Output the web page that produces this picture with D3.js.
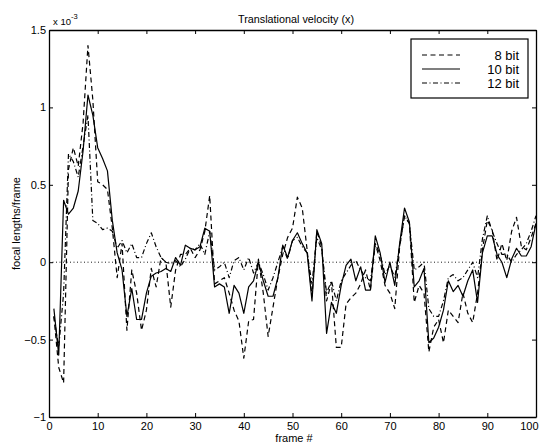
<!DOCTYPE html>
<html>
<head>
<meta charset="utf-8">
<script src="https://cdn.jsdelivr.net/npm/d3@7"></script>
<style>
  html, body { margin: 0; padding: 0; background: #fff; }
  svg { display: block; }
  text { font-family: "Liberation Sans", Arial, Helvetica, sans-serif; fill: #000; }
</style>
</head>
<body>
<svg id="chart" width="539" height="444"></svg>
<script>
// Frame numbers 1..100
const frames = d3.range(1, 101);

// Translational velocity (x), units of 1e-3 focal lengths per frame
const bit8 = [
  -0.35, -0.68, -0.78, 0.60, 0.74, 0.62, 0.90, 1.40, 1.05, 0.52,
   0.50, 0.47, 0.22, -0.10, 0.12, -0.44, -0.05, -0.20, -0.44, -0.31,
  -0.04, -0.16, 0.03, 0.00, -0.29, -0.05, 0.05, 0.05, 0.09, 0.03,
   0.08, 0.20, 0.43, -0.14, -0.12, -0.10, -0.20, -0.31, -0.38, -0.62,
  -0.38, -0.37, 0.02, -0.20, -0.48, -0.29, -0.10, 0.05, 0.16, 0.22,
   0.42, 0.35, 0.08, -0.22, 0.20, 0.10, -0.25, -0.13, -0.55, -0.55,
  -0.27, -0.23, -0.20, -0.14, -0.05, -0.18, 0.12, 0.01, -0.15, -0.20,
  -0.30, 0.10, 0.30, 0.25, -0.26, -0.15, -0.20, -0.58, -0.42, -0.37,
  -0.52, -0.31, -0.35, -0.39, -0.20, -0.33, -0.39, -0.20, 0.08, 0.27,
   0.21, 0.01, 0.12, 0.01, 0.20, 0.29, 0.10, 0.08, 0.16, 0.25
];

const bit10 = [
  -0.30, -0.60, 0.40, 0.31, 0.35, 0.46, 0.72, 1.08, 0.95, 0.74,
   0.67, 0.59, 0.27, 0.06, -0.05, -0.35, -0.17, -0.37, -0.37, -0.20,
  -0.09, -0.07, -0.06, -0.04, -0.06, 0.03, -0.02, 0.11, 0.09, 0.08,
   0.10, 0.22, 0.20, -0.16, -0.14, -0.16, -0.33, -0.15, -0.20, -0.33,
  -0.16, -0.12, 0.00, -0.12, -0.22, -0.22, -0.10, 0.11, 0.03, 0.14,
   0.19, 0.12, 0.06, -0.25, 0.21, 0.12, -0.46, -0.26, -0.33, -0.15,
  -0.02, 0.02, -0.12, -0.03, -0.18, -0.18, 0.17, 0.06, -0.13, 0.00,
  -0.15, 0.12, 0.35, 0.26, -0.16, -0.12, -0.04, -0.52, -0.49, -0.42,
  -0.31, -0.12, -0.19, -0.15, -0.22, -0.12, -0.05, -0.26, 0.06, 0.17,
   0.17, 0.05, 0.00, -0.10, 0.02, 0.09, 0.04, 0.04, 0.10, 0.25
];

const bit12 = [
  -0.35, -0.55, -0.20, 0.70, 0.65, 0.55, 0.75, 0.95, 0.27, 0.25,
   0.21, 0.22, 0.20, 0.09, 0.14, 0.06, 0.12, 0.03, 0.03, 0.12,
   0.19, 0.10, 0.03, 0.00, -0.01, 0.01, -0.03, 0.02, 0.09, 0.08,
   0.12, 0.05, 0.20, -0.05, -0.03, 0.00, -0.10, 0.01, 0.03, -0.05,
   0.03, -0.07, 0.00, -0.08, -0.18, -0.10, 0.00, 0.10, 0.02, 0.14,
   0.16, 0.10, 0.06, -0.14, 0.16, 0.08, -0.20, -0.12, -0.25, -0.12,
  -0.07, -0.02, 0.01, -0.05, -0.10, -0.12, 0.12, 0.05, -0.08, -0.02,
  -0.10, 0.10, 0.30, 0.25, -0.05, -0.03, 0.00, -0.30, -0.35, -0.35,
  -0.25, -0.10, -0.08, -0.12, -0.10, -0.05, 0.00, -0.10, 0.15, 0.30,
   0.20, 0.12, 0.05, 0.05, 0.00, 0.05, 0.08, 0.12, 0.20, 0.30
];

const seriesNames = ["8 bit", "10 bit", "12 bit"];
const xTicks = [0, 10, 20, 30, 40, 50, 60, 70, 80, 90, 100];
const yTicks = [-1, -0.5, 0, 0.5, 1, 1.5];

const svg = d3.select("#chart");
const plotL = 49, plotR = 536, plotT = 30, plotB = 417;

const x = d3.scaleLinear().domain([0, 100]).range([plotL, plotR]);
const y = d3.scaleLinear().domain([-1, 1.5]).range([plotB, plotT]);

const styles = [
  { dash: "5,3.5" },      // 8 bit: dashed
  { dash: null },         // 10 bit: solid
  { dash: "5,2.5,1,2.5" } // 12 bit: dash-dot
];
const series = [bit8, bit10, bit12];

// zero reference line (dotted)
svg.append("line")
  .attr("x1", x(0)).attr("x2", x(100))
  .attr("y1", y(0)).attr("y2", y(0))
  .attr("stroke", "#000").attr("stroke-width", 0.9)
  .attr("stroke-dasharray", "1,2.5");

const line = d3.line()
  .x((d, i) => x(frames[i]))
  .y(d => y(d));

series.forEach((vals, k) => {
  svg.append("path")
    .datum(vals)
    .attr("d", line)
    .attr("fill", "none")
    .attr("stroke", "#000")
    .attr("stroke-width", 1.2)
    .attr("stroke-linejoin", "round")
    .attr("stroke-dasharray", styles[k].dash);
});

// axes with inward ticks on all four sides
const fmt = d => d3.format("")(d);
const axB = svg.append("g").attr("transform", `translate(0,${plotB})`)
  .call(d3.axisBottom(x).tickValues(xTicks).tickSizeInner(-4).tickSizeOuter(0).tickPadding(5).tickFormat(fmt));
const axT = svg.append("g").attr("transform", `translate(0,${plotT})`)
  .call(d3.axisTop(x).tickValues(xTicks).tickSizeInner(-4).tickSizeOuter(0).tickFormat(""));
const axL = svg.append("g").attr("transform", `translate(${plotL},0)`)
  .call(d3.axisLeft(y).tickValues(yTicks).tickSizeInner(-4).tickSizeOuter(0).tickPadding(3).tickFormat(fmt));
const axR = svg.append("g").attr("transform", `translate(${plotR},0)`)
  .call(d3.axisRight(y).tickValues(yTicks).tickSizeInner(-4).tickSizeOuter(0).tickFormat(""));

[axB, axT, axL, axR].forEach(g => {
  g.select(".domain").attr("stroke", "#000").attr("stroke-width", 1.3);
  g.selectAll(".tick line").attr("stroke", "#000").attr("stroke-width", 1);
  g.selectAll(".tick text").attr("font-size", 11)
    .attr("font-family", '"Liberation Sans", Arial, sans-serif').attr("fill", "#000");
});
// keep the last x label inside the canvas edge
axB.selectAll(".tick text").filter(d => d === 100)
  .attr("text-anchor", "end").attr("x", 538 - x(100));

// exponent label
const ex = svg.append("text").attr("x", 53).attr("y", 25).attr("font-size", 9.5);
ex.append("tspan").text("x 10");
ex.append("tspan").attr("dy", -6).attr("font-size", 7.5).text("-3");

// title
svg.append("text").attr("x", 296).attr("y", 23).attr("text-anchor", "middle")
  .attr("font-size", 10.8).text("Translational velocity (x)");

// axis labels
svg.append("text").attr("x", 294).attr("y", 442).attr("text-anchor", "middle")
  .attr("font-size", 11).text("frame #");
svg.append("text")
  .attr("transform", `translate(20,${(plotT + plotB) / 2}) rotate(-90)`)
  .attr("text-anchor", "middle").attr("font-size", 11).text("focal lengths/frame");

// legend
const lg = svg.append("g");
lg.append("rect").attr("x", 411).attr("y", 39).attr("width", 117).attr("height", 59)
  .attr("fill", "#fff").attr("stroke", "#000").attr("stroke-width", 1.2);
seriesNames.forEach((name, k) => {
  const ry = 55 + k * 14;
  lg.append("line").attr("x1", 422).attr("x2", 460).attr("y1", ry).attr("y2", ry)
    .attr("stroke", "#000").attr("stroke-width", 1.1)
    .attr("stroke-dasharray", styles[k].dash);
  lg.append("text").attr("x", 519).attr("y", ry + 4.5).attr("text-anchor", "end")
    .attr("font-size", 13).text(name);
});
</script>
</body>
</html>
